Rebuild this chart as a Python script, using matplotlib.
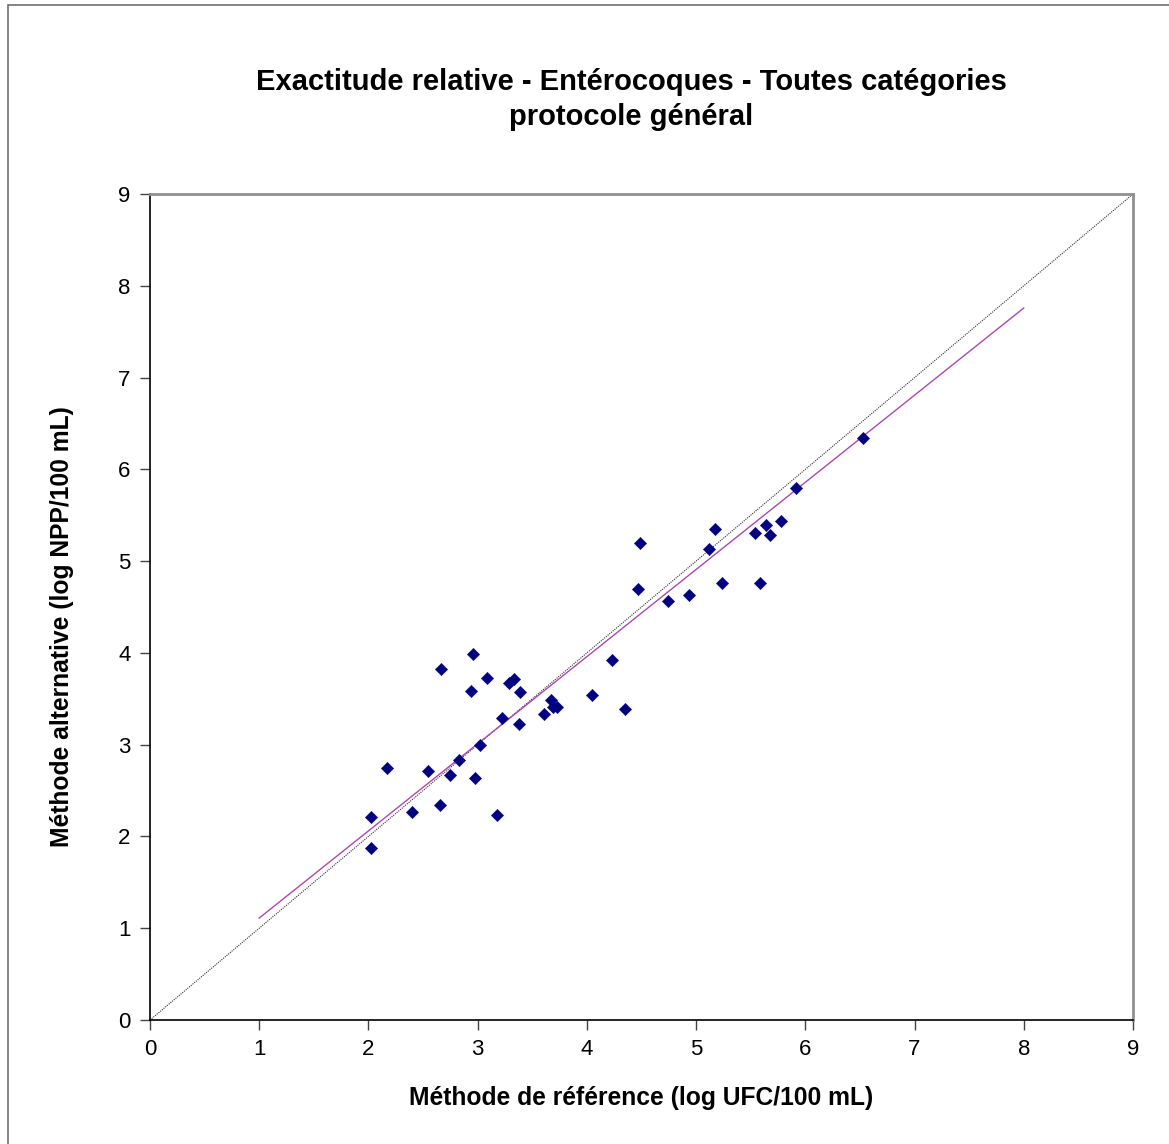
import numpy as np
import matplotlib.pyplot as plt
from matplotlib.patches import Rectangle

plt.rcParams['font.family'] = ['Liberation Sans', 'DejaVu Sans']

# log UFC/100 mL (reference) vs log NPP/100 mL (alternative)
ref_log = [2.955, 2.667, 3.088, 3.284, 3.336, 2.939, 3.391, 4.230, 4.050, 3.671,
           3.687, 3.726, 3.610, 4.352, 3.223, 3.381, 3.018, 2.829, 2.167, 2.548,
           2.747, 2.976, 2.020, 2.396, 2.658, 3.180, 2.020,
           4.489, 4.471, 4.743, 4.935, 5.237, 5.585, 5.173, 5.121, 5.542, 5.643,
           5.680, 5.777, 5.915, 6.528]
alt_log = [3.985, 3.821, 3.730, 3.675, 3.712, 3.585, 3.570, 3.919, 3.541, 3.490,
           3.410, 3.407, 3.331, 3.385, 3.290, 3.222, 2.996, 2.836, 2.749, 2.716,
           2.673, 2.637, 2.215, 2.270, 2.343, 2.230, 1.874,
           5.201, 4.696, 4.565, 4.631, 4.758, 4.758, 5.353, 5.132, 5.303, 5.390,
           5.281, 5.437, 5.793, 6.338]

# regression line coefficients and the x span it is drawn over
fit_slope = 0.9496
fit_intercept = 0.161
fit_range = [1, 8]
ticks = list(range(0, 10))

fig = plt.figure(figsize=(11.69, 11.44), dpi=100)
ax = fig.add_axes([0.1283, 0.1084, 0.8409, 0.7220])

# line y = x
ax.plot([0, 9], [0, 9], color='#333333', lw=0.8, ls=(0, (1, 1)), zorder=2)

xf = np.array(fit_range, dtype=float)
ax.plot(xf, fit_slope * xf + fit_intercept, color='#B046B0', lw=1.0, zorder=2)

ax.scatter(ref_log, alt_log, marker='D', s=40, color='#000080', edgecolors='#000080',
           linewidths=0.3, zorder=3)

ax.set_xlim(0, 9)
ax.set_ylim(0, 9)
ax.set_xticks(ticks)
ax.set_yticks(ticks)
ax.tick_params(direction='out', length=7, width=1, labelsize=16, color='#444444', pad=7)

for side in ['left', 'bottom']:
    ax.spines[side].set_color('black')
    ax.spines[side].set_linewidth(1.2)
for side in ['top', 'right']:
    ax.spines[side].set_color('#909090')
    ax.spines[side].set_linewidth(2.0)

fig.text(631 / 1169, 1 - 82 / 1144, 'Exactitude relative - Entérocoques - Toutes catégories',
         ha='center', va='center', fontsize=21, fontweight='bold')
fig.text(631 / 1169, 1 - 117 / 1144, 'protocole général',
         ha='center', va='center', fontsize=21, fontweight='bold')
fig.text(641 / 1169, 1 - 1098 / 1144, 'Méthode de référence (log UFC/100 mL)',
         ha='center', va='center', fontsize=17.7, fontweight='bold')
fig.text(62 / 1169, 1 - 627 / 1144, 'Méthode alternative (log NPP/100 mL)',
         ha='center', va='center', fontsize=17.7, fontweight='bold', rotation=90)

# outer chart border
fig.patches.append(Rectangle((8 / 1169, -0.01), 1.2, 1 - 5 / 1144 + 0.01,
                             transform=fig.transFigure, fill=False,
                             edgecolor='#707070', lw=1.2))

fig.savefig('out.png', dpi=100)
